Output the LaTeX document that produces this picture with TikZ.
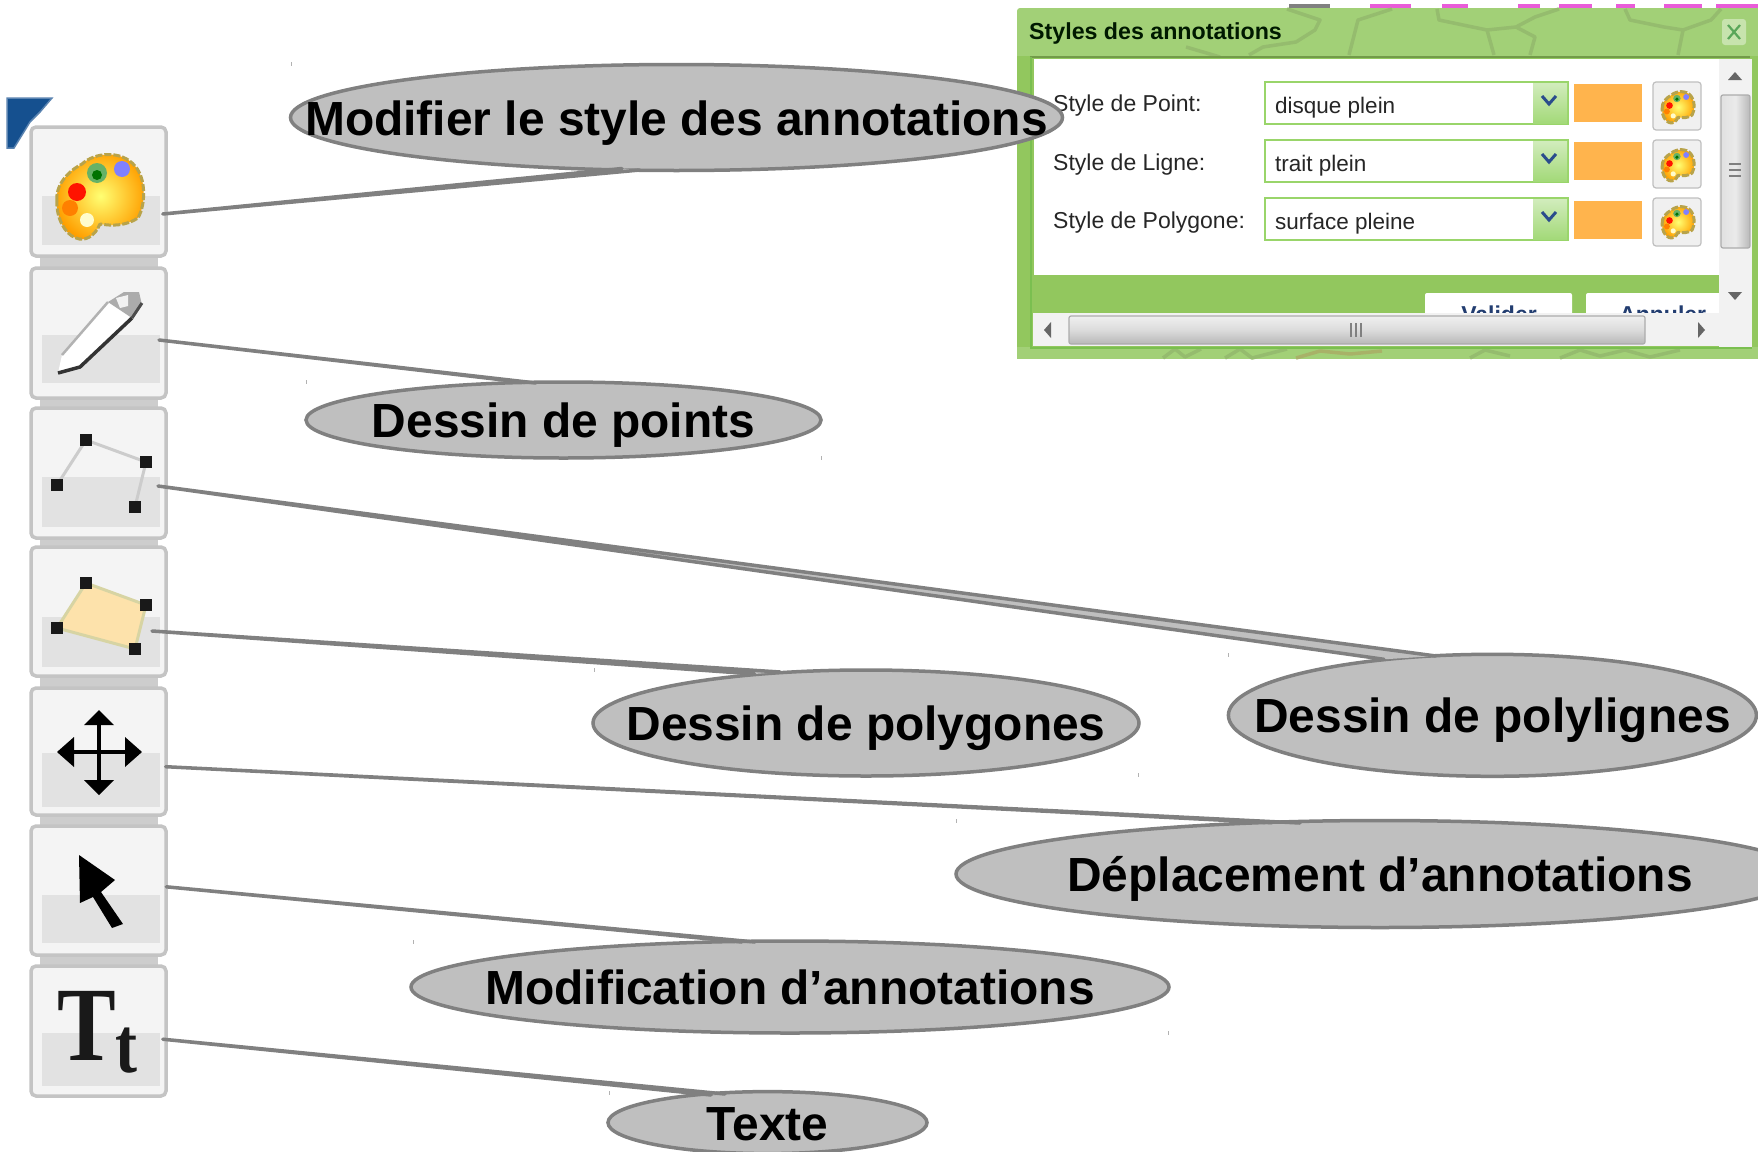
\documentclass[tikz,border=0pt]{standalone}
\usepackage{fontspec}
\setmainfont{Liberation Sans}
\newfontfamily\iconserif{Liberation Serif}
\usetikzlibrary{shapes.geometric,calc}
\definecolor{bubblefill}{HTML}{BFBFBF}
\definecolor{bubbleline}{HTML}{808080}
\definecolor{btnedge}{HTML}{C4C4C4}
\definecolor{btntop}{HTML}{F4F4F4}
\definecolor{btnlow}{HTML}{E2E2E2}
\definecolor{panelgreen}{HTML}{92C75E}
\definecolor{titlegreen}{HTML}{A2D077}
\definecolor{mapline}{HTML}{95BC6E}
\definecolor{mapolive}{HTML}{A8B268}
\definecolor{brightedge}{HTML}{7ABF50}
\definecolor{comboedge}{HTML}{99D56A}
\definecolor{swatch}{HTML}{FFB44D}
\definecolor{chevron}{HTML}{2A4C8C}
\definecolor{mappink}{HTML}{E95CD8}
\definecolor{cornerblue}{HTML}{15508F}
\tikzset{
  x=1pt,y=-1pt,
  bubble/.style={ellipse,draw=bubbleline,fill=bubblefill,line width=3.5pt,inner sep=0pt,
    text height=35pt,text depth=0pt,text=black,font=\fontsize{47.9}{50}\selectfont\bfseries},
  wedge/.style={draw=bubbleline,fill=bubblefill,line width=3.5pt,line join=round,line cap=round},
  toolbtn/.style={rectangle,rounded corners=5pt,draw=btnedge,fill=btntop,line width=3.5pt,inner sep=0pt,outer sep=0pt,minimum width=135pt,anchor=north west},
  lowband/.style={fill=btnlow,draw=none},
  tinymark/.style={draw=gray!60,line width=.8pt},
  vertex/.style={fill=black!90,minimum size=12pt,inner sep=0pt,rectangle},
  dlglabel/.style={anchor=base west,inner sep=0pt,font=\fontsize{23}{25}\selectfont,text=black!85},
  combotext/.style={anchor=base west,inner sep=0pt,font=\fontsize{22.5}{25}\selectfont,text=black!85},
  combobox/.style={rectangle,draw=comboedge,fill=white,line width=2pt,inner sep=0pt,outer sep=0pt,anchor=north west,minimum width=303pt,minimum height=42pt},
  swatchbox/.style={rectangle,fill=swatch,inner sep=0pt,outer sep=0pt,anchor=north west,minimum width=68pt,minimum height=38pt},
  palbtn/.style={rectangle,rounded corners=3pt,draw=gray!50,fill=gray!12,line width=1.2pt,inner sep=0pt,outer sep=0pt,anchor=north west,minimum width=48pt,minimum height=48pt},
  sbtrack/.style={fill=black!5,draw=none},
  sbthumb/.style={rounded corners=2pt,draw=gray!65,line width=1.2pt},
  sbarrow/.style={fill=black!60,draw=none},
  tabtext/.style={anchor=base,inner sep=0pt,font=\fontsize{23}{24}\selectfont\bfseries,text=chevron!80!black},
}
% palette icon, origin at its centre, drawn 90 units wide
\newcommand{\paletteicon}[2]{%
\begin{scope}[shift={(#1)},scale=#2]
  \shade[inner color=yellow!55!white,outer color=orange!75!yellow,draw=black!35!yellow!60!brown,line width=3pt,dash pattern=on 7pt off 2pt,
    line join=round,shading=radial]
    (-43,5) .. controls (-45,-12) and (-30,-26) .. (-18,-32)
    .. controls (-5,-44) and (22,-46) .. (35,-30)
    .. controls (46,-18) and (46,8) .. (38,22)
    .. controls (26,30) and (12,30) .. (0,28)
    .. controls (-5,40) and (-15,46) .. (-24,42)
    .. controls (-36,38) and (-44,20) .. cycle;
  \fill[green!50!black!60!white] (-3,-23) circle (10);
  \fill[green!45!black] (-3,-21) circle (5);
  \fill[blue!50!white] (22,-27) circle (8);
  \fill[red!85!orange] (-23,-4) circle (9);
  \fill[orange] (-30,12) circle (8);
  \fill[yellow!20!white] (-13,24) circle (7);
\end{scope}}
\begin{document}
\begin{tikzpicture}
\useasboundingbox (0,0) rectangle (1758,1151);
\fill[white] (0,0) rectangle (1758,1151);

%% dialog panel
\begin{scope}
  \clip (1010,0) rectangle (1758,360);
  % map behind the window
  \foreach \a/\b in {1370/1411,1442/1468,1518/1540,1559/1592,1616/1635,1664/1702,1716/1758}{
    \fill[mappink] (\a,4) rectangle (\b,9);}
  \fill[black!50] (1289,4) rectangle (1330,9);
  \fill[titlegreen,rounded corners=3pt] (1017,8) rectangle (1768,70);
  \fill[panelgreen] (1017,56) rectangle (1758,359);
  \fill[titlegreen] (1017,347) rectangle (1758,359);
  \begin{scope}[mapline,line width=3.5pt,line join=round]
    \draw (1287,9) -- (1320,20) -- (1315,30) -- (1296,42) -- (1263,47) -- (1249,55);
    \draw (1186,47) -- (1220,57);
    \draw (1392,9) -- (1358,20) -- (1349,55);
    \draw (1437,9) -- (1439,20) -- (1463,25) -- (1487,30) -- (1494,55);
    \draw (1487,30) -- (1516,27) -- (1535,17) -- (1559,9);
    \draw (1516,27) -- (1535,37) -- (1530,55);
    \draw (1625,9) -- (1630,20) -- (1664,27) -- (1683,30) -- (1678,55);
    \draw (1683,30) -- (1711,20) -- (1721,9);
    \draw (1163,358) -- (1175,349) -- (1185,357) -- (1201,349);
    \draw (1225,358) -- (1240,349) -- (1252,358) -- (1287,349);
    \draw (1470,358) -- (1485,350) -- (1510,356);
    \draw (1560,358) -- (1580,350) -- (1600,356) -- (1625,350) -- (1650,357) -- (1680,350);
  \end{scope}
  \draw[mapolive,line width=3.5pt,line join=round] (1296,358) -- (1320,351) -- (1350,354) -- (1382,351);
  \fill[white] (1034,59) rectangle (1719,275);
  \draw[black!22!panelgreen,line width=2pt] (1030,57) -- (1750,57);
  \draw[brightedge,line width=2pt] (1031,57) -- (1031,347.5) -- (1752,347.5);
\end{scope}
\fill[white,rounded corners=2pt] (1425,293) rectangle (1572,320);
\fill[white,rounded corners=2pt] (1586,293) rectangle (1730,320);
\node[tabtext] (btnok) at (1499,322) {Valider};
\node[tabtext] (btncancel) at (1662.7,322) {Annuler};
\node[anchor=base west,inner sep=0pt,font=\fontsize{23.2}{26}\selectfont\bfseries,text=black!90!green] (dlgtitle) at (1029,39) {Styles des annotations};
\node[rectangle,rounded corners=3pt,fill=white!40!titlegreen,inner sep=0pt,minimum width=24pt,minimum height=26pt] (dlgclose) at (1734,32) {};
\draw[gray!70!green,line width=2.2pt] (1728,25) -- (1740,39) (1740,25) -- (1728,39);

% rows
\node[dlglabel] (lab1) at (1053,111) {Style de Point:};
\node[dlglabel] (lab2) at (1053,170) {Style de Ligne:};
\node[dlglabel] (lab3) at (1053,228) {Style de Polygone:};
\foreach \yy/\nm/\val in {82/c1/disque plein,140/c2/trait plein,198/c3/surface pleine}{
  \node[combobox] (\nm) at (1265,\yy) {};
  \shade[top color=comboedge!45!white,bottom color=comboedge!90!white] (1533,\yy+1) rectangle (1567,\yy+41);
  \draw[chevron,line width=3pt] (1542,\yy+14) -- (1549,\yy+22) -- (1556,\yy+14);
  \node[combotext] at (1275,\yy+31) {\val};
}
\node[swatchbox] (sw1) at (1574,84) {};
\node[swatchbox] (sw2) at (1574,142) {};
\node[swatchbox] (sw3) at (1574,201) {};
\node[palbtn] (pb1) at (1653,82) {};
\node[palbtn] (pb2) at (1653,140) {};
\node[palbtn] (pb3) at (1653,198) {};
\paletteicon{1678,107}{.37}
\paletteicon{1678,165}{.37}
\paletteicon{1678,222}{.37}

% scrollbars
\fill[sbtrack] (1719,59) rectangle (1752,347);
\fill[sbtrack] (1033,313) rectangle (1719,346);
\draw[sbthumb,left color=black!12,right color=black!28,middle color=black!8] (1721,95) rectangle (1750,248);
\draw[sbthumb,top color=black!6,bottom color=black!28,middle color=black!14] (1069,316) rectangle (1645,344);
\fill[sbarrow] (1735,72) -- (1742,80) -- (1728,80) -- cycle;
\fill[sbarrow] (1735,300) -- (1742,292) -- (1728,292) -- cycle;
\fill[sbarrow] (1044,330) -- (1051,322) -- (1051,338) -- cycle;
\fill[sbarrow] (1705,330) -- (1698,322) -- (1698,338) -- cycle;
\draw[black!50,line width=1.2pt] (1729,164) -- (1741,164) (1729,170) -- (1741,170) (1729,176) -- (1741,176);
\draw[black!50,line width=1.2pt] (1351,323) -- (1351,337) (1356,323) -- (1356,337) (1361,323) -- (1361,337);

%% blue corner behind the toolbar
\filldraw[fill=cornerblue,draw=cornerblue!70!white,line width=1.5pt] (7,98) -- (52,98) -- (40,112) -- (30,122) -- (14,148) -- (7,148) -- cycle;

%% toolbar buttons
\foreach \ya/\yb in {258/267,400/407,540/546,678/687,817/825,957/965}{
  \fill[btnedge!85] (40,\ya) rectangle (158,\yb);
}
\foreach \nm/\ya/\yb/\ym/\yc in {b1/127/256/196/245,b2/268/398/335/383,b3/408/538/477/527,b4/547/676/617/667,b5/688/815/753/807,b6/826/955/895/943,b7/966/1096/1033/1086}{
  \pgfmathsetmacro{\hh}{\yb-\ya}
  \node[toolbtn,minimum height=\hh pt] (\nm) at (31,\ya) {};
  \fill[lowband] (42,\ym) rectangle (160,\yc);
}
\paletteicon{100,196}{1}
% pencil
\fill[white] (58,373) -- (62,355) -- (108,302) -- (132,318) -- (80,367) -- cycle;
\fill[gray!65] (108,302) -- (124,292) -- (139,292) -- (142,305) -- (132,318) -- cycle;
\fill[gray!10] (116,298) -- (128,295) -- (128,306) -- (120,308) -- cycle;
\draw[gray!60,line width=2.5pt] (62,355) -- (108,302);
\draw[black!80,line width=3.5pt] (132,318) -- (80,367) -- (58,373);
\draw[black!70,line width=3pt] (142,303) -- (132,318);
% polyline
\draw[gray!40,line width=3pt] (57,485) -- (86,440) -- (146,462) -- (135,507);
\foreach \nm/\pp in {pa/{57,485},pb/{86,440},pc/{146,462},pd/{135,507}}{\node[vertex] (\nm) at (\pp) {};}
% polygon
\filldraw[fill=yellow!30!orange!30!white,draw=gray!60!yellow!60!white,line width=3pt] (57,628) -- (86,583) -- (146,605) -- (135,649) -- cycle;
\foreach \nm/\pp in {qa/{57,628},qb/{86,583},qc/{146,605},qd/{135,649}}{\node[vertex] (\nm) at (\pp) {};}
% move cross
\draw[black,line width=3.5pt] (99,715) -- (99,790) (62,752) -- (137,752);
\fill[black] (99,710) -- (114,725) -- (84,725) -- cycle;
\fill[black] (99,795) -- (114,780) -- (84,780) -- cycle;
\fill[black] (57,752) -- (74,737) -- (74,767) -- cycle;
\fill[black] (142,752) -- (125,737) -- (125,767) -- cycle;
% cursor
\fill[black] (79,855) -- (115,880) -- (101,892) -- (123,924) -- (112,928) -- (93,897) -- (80,903) -- cycle;
% Tt
\node[anchor=base west,inner sep=0pt,yscale=1.2,font=\iconserif\bfseries,text=black!90] (ttglyph) at (57,1060)
  {\fontsize{88}{92}\selectfont T\raisebox{-10pt}{\fontsize{66}{68}\selectfont t}};

%% callouts
\node[bubble,minimum width=772pt,minimum height=106pt] (e1) at (676.5,117.5) {\makebox[0pt]{Modifier le style des annotations}};
\node[bubble,minimum width=515pt,minimum height=76pt] (e2) at (563.5,420) {\makebox[0pt]{Dessin de points}};
\node[bubble,minimum width=528pt,minimum height=122pt] (e3) at (1492.4,715.3) {\makebox[0pt]{Dessin de polylignes}};
\node[bubble,minimum width=546pt,minimum height=106pt] (e5) at (866,723) {\makebox[0pt]{Dessin de polygones}};
\node[bubble,minimum width=848pt,minimum height=107pt] (e4) at (1380,874) {\makebox[0pt]{Déplacement d’annotations}};
\node[bubble,minimum width=758pt,minimum height=92pt] (e6) at (790,987) {\makebox[0pt]{Modification d’annotations}};
\node[bubble,minimum width=319pt,minimum height=62pt] (e7) at (767.5,1122.6) {\makebox[0pt]{Texte}};

\coordinate (t1) at (162.8,214);   \coordinate (a1) at (622,168.5);  \coordinate (c1) at (640,170);
\coordinate (t2) at (159,340);     \coordinate (a2) at (525,382.5);  \coordinate (c2) at (536,383);
\coordinate (t3) at (158,486);     \coordinate (a3) at (1384,659.3); \coordinate (c3) at (1436,656);
\coordinate (t4) at (152,631);     \coordinate (a4) at (754.6,674);  \coordinate (c4) at (780,672);
\coordinate (t5) at (165.7,766.7); \coordinate (a5) at (1272,822.7); \coordinate (c5) at (1300,823);
\coordinate (t6) at (166.3,886.8); \coordinate (a6) at (741.8,942);  \coordinate (c6) at (755,942);
\coordinate (t7) at (162.8,1039.2);\coordinate (a7) at (711,1095);   \coordinate (c7) at (725,1094);
\foreach \i in {1,...,7}{\draw[wedge] (a\i) -- (t\i) -- (c\i);}

%% tiny marks
\foreach \mm in {{291,62},{306.6,380},{821,456},{1228,653},{1138,773},{956,819},{594,668},{413,940},{609,1091},{1168,1031}}{
  \draw[tinymark] (\mm) -- ++(0,4);}
\end{tikzpicture}
\end{document}
